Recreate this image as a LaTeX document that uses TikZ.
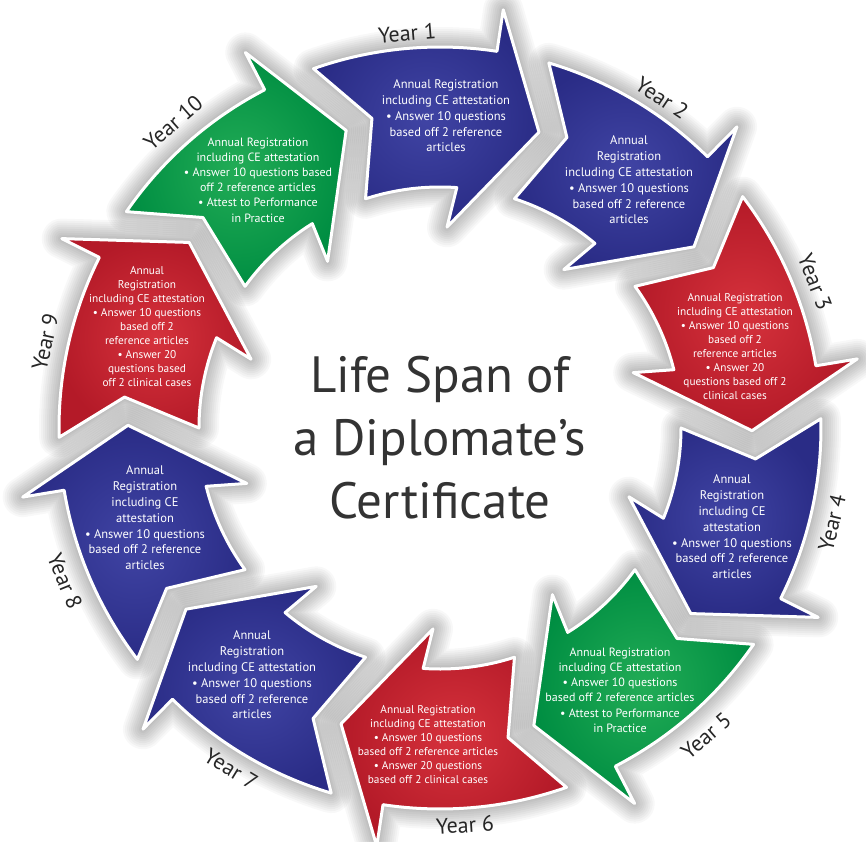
\documentclass[tikz,border=0pt]{standalone}
\usepackage{fontspec}
\setmainfont{PT Sans}
\definecolor{DB}{RGB}{42,44,134}
\definecolor{LB}{RGB}{64,68,164}
\definecolor{DR}{RGB}{180,26,40}
\definecolor{LR}{RGB}{214,50,60}
\definecolor{DG}{RGB}{0,142,66}
\definecolor{LG}{RGB}{34,172,86}
\newcommand\arrowpath[1]{({#1+19.4}:381) arc[start angle={#1+19.4}, end angle={#1-8.6}, radius=381] -- ({#1-8.6}:423) -- ({#1-18.5}:312) -- ({#1-2}:201) -- ({#1-4}:241) arc[start angle={#1-4}, end angle={#1+18}, radius=241] -- ({#1+12.4}:317) -- cycle}
\tikzset{
  glow/.style={draw=black, draw opacity=0.028, line width=#1, line join=round},
  arrowB/.style={inner color=LB, outer color=DB, draw=white, line width=3pt, line join=round},
  arrowR/.style={inner color=LR, outer color=DR, draw=white, line width=3pt, line join=round},
  arrowG/.style={inner color=LG, outer color=DG, draw=white, line width=3pt, line join=round},
  body/.style={text=white, align=center, inner sep=0pt, font=\fontsize{12.5}{15.8}\selectfont},
  bodysm/.style={text=white, align=center, inner sep=0pt, font=\fontsize{11.3}{14}\selectfont},
  bodymd/.style={text=white, align=center, inner sep=0pt, font=\fontsize{12}{15.2}\selectfont},
  yearlbl/.style={text=black!85, inner sep=0pt, font=\fontsize{22}{26}\selectfont},
}
\begin{document}
\begin{tikzpicture}[x=1pt,y=1pt]
\useasboundingbox (-440,-413) rectangle (426,428);
\fill[white] (-440,-413) rectangle (426,428);
% glow / shadow
\foreach \t in {90,54,18,-18,-54,-90,-126,-162,162,126}{
  \foreach \w in {40,36,32,28,24,20,16,12,8,5}{
    \draw[glow=\w pt] \arrowpath{\t};
  }
}
% arrows
\shadedraw[arrowB] \arrowpath{90};
\shadedraw[arrowB] \arrowpath{54};
\shadedraw[arrowR] \arrowpath{18};
\shadedraw[arrowB] \arrowpath{-18};
\shadedraw[arrowG] \arrowpath{-54};
\shadedraw[arrowR] \arrowpath{-90};
\shadedraw[arrowB] \arrowpath{-126};
\shadedraw[arrowB] \arrowpath{-162};
\shadedraw[arrowR] \arrowpath{162};
\shadedraw[arrowG] \arrowpath{126};
% texts
\node[body] (t1) at (6,312) {Annual Registration\\including CE attestation\\• Answer 10 questions\\based off 2 reference\\articles};
\node[body] (t2) at (189,248) {Annual\\Registration\\including CE attestation\\• Answer 10 questions\\based off 2 reference\\articles};
\node[bodysm] (t3) at (295,81) {Annual Registration\\including CE attestation\\• Answer 10 questions\\based off 2\\reference articles\\• Answer 20\\questions based off 2\\clinical cases};
\node[body] (t4) at (292,-99) {Annual\\Registration\\including CE\\attestation\\• Answer 10 questions\\based off 2 reference\\articles};
\node[bodymd] (t5) at (180,-262) {Annual Registration\\including CE attestation\\• Answer 10 questions\\based off 2 reference articles\\• Attest to Performance\\in Practice};
\node[bodysm] (t6) at (-12,-317) {Annual Registration\\including CE attestation\\• Answer 10 questions\\based off 2 reference articles\\• Answer 20 questions\\based off 2 clinical cases};
\node[body] (t7) at (-188,-247) {Annual\\Registration\\including CE attestation\\• Answer 10 questions\\based off 2 reference\\articles};
\node[body] (t8) at (-295,-90) {Annual\\Registration\\including CE\\attestation\\• Answer 10 questions\\based off 2 reference\\articles};
\node[bodysm] (t9) at (-293,101) {Annual\\Registration\\including CE attestation\\• Answer 10 questions\\based off 2\\reference articles\\• Answer 20\\questions based\\off 2 clinical cases};
\node[bodymd] (t10) at (-182,248) {Annual Registration\\including CE attestation\\• Answer 10 questions based\\off 2 reference articles\\• Attest to Performance\\in Practice};
% year labels
\node[yearlbl, rotate=4.8] (y1) at (-33,395) {Year 1};
\node[yearlbl, rotate=-33.8] (y2) at (222,330) {Year 2};
\node[yearlbl, rotate=-68.8] (y3) at (375,146) {Year 3};
\node[yearlbl, rotate=76.3] (y4) at (392,-95) {Year 4};
\node[yearlbl, rotate=40.8] (y5) at (266,-308) {Year 5};
\node[yearlbl, rotate=3.6] (y6) at (25,-397) {Year 6};
\node[yearlbl, rotate=-31.4] (y7) at (-209,-341) {Year 7};
\node[yearlbl, rotate=-67.8] (y8) at (-375,-153) {Year 8};
\node[yearlbl, rotate=77.7] (y9) at (-395,86) {Year 9};
\node[yearlbl, rotate=41.2] (y10) at (-267,305) {Year 10};
% title
\node[align=center, text=black!80, font=\fontsize{51}{63}\selectfont] (title) at (0,-10) {Life Span of\\a Diplomate’s\\Certificate};
\end{tikzpicture}
\end{document}
